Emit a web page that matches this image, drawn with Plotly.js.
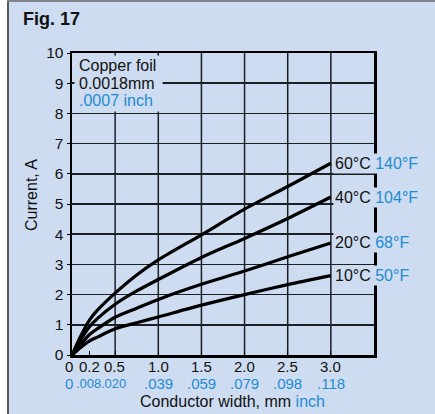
<!DOCTYPE html>
<html>
<head>
<meta charset="utf-8">
<script src="https://cdn.plot.ly/plotly-3.0.1.min.js"></script>
<style>
  html, body { margin:0; padding:0; background:#ffffff; }
  #wrap { position:relative; width:435px; height:414px; }
  #chart { position:absolute; left:0; top:0; width:435px; height:414px; }
  #bl { position:absolute; left:0; top:0; width:7px; height:414px; background:#ffffff; }
  #bl2 { position:absolute; left:7px; top:0; width:2px; height:414px; background:#555a60; }
  #bt { position:absolute; left:7px; top:0; width:428px; height:2px; background:#80868c; }
</style>
</head>
<body>
<div id="wrap">
  <div id="chart"></div>
  <div id="bl"></div><div id="bl2"></div><div id="bt"></div>
</div>
<script>
// Data
const widthMM = [0, 0.1, 0.2, 0.3, 0.5, 0.75, 1.0, 1.5, 2.0, 2.5, 3.0];
const current60 = [0, 0.62, 1.15, 1.50, 2.05, 2.65, 3.15, 3.98, 4.83, 5.58, 6.35];
const current40 = [0, 0.50, 0.93, 1.22, 1.68, 2.12, 2.50, 3.23, 3.86, 4.52, 5.23];
const current20 = [0, 0.35, 0.67, 0.88, 1.25, 1.55, 1.84, 2.34, 2.78, 3.25, 3.71];
const current10 = [0, 0.25, 0.46, 0.60, 0.87, 1.07, 1.26, 1.65, 2.00, 2.33, 2.63];
const seriesC = ["60°C", "40°C", "20°C", "10°C"];
const seriesF = ["140°F", "104°F", "68°F", "50°F"];
const xTickVals = [0, 0.2, 0.5, 1.0, 1.5, 2.0, 2.5, 3.0];
const xTickMM = ["0", "0.2", "0.5", "1.0", "1.5", "2.0", "2.5", "3.0"];
const xTickInch = ["0", ".008", ".020", ".039", ".059", ".079", ".098", ".118"];
const xGridVals = [0.5, 1.0, 1.5, 2.0, 2.5, 3.0];
const noteLines = ["Copper foil", "0.0018mm", ".0007 inch"];

const BLUE = "#1f8bd0";
const BG = "#cddcf0";
const INK = "#111111";
const FONT = "Liberation Sans, Arial, sans-serif";

const allSeries = [current60, current40, current20, current10];
const traces = allSeries.map((ys, i) => ({
  x: widthMM, y: ys, type: "scatter", mode: "lines",
  line: { color: "#000000", width: 3.2, shape: "spline", smoothing: 0.8 },
  name: seriesC[i], showlegend: false, hoverinfo: "skip"
}));

const annotations = allSeries.map((ys, i) => ({
  x: widthMM[widthMM.length - 1], y: ys[ys.length - 1], xref: "x", yref: "y",
  text: seriesC[i] + " <span style='color:" + BLUE + "'>" + seriesF[i] + "</span>",
  showarrow: false, xanchor: "left", yanchor: "middle", xshift: 2,
  bgcolor: BG, borderpad: 1,
  font: { family: FONT, size: 16, color: INK }
}));
// background box of the note
annotations.push({
  x: 0, y: 10, xref: "x", yref: "y", xanchor: "left", yanchor: "top",
  xshift: 1.5, yshift: -1.5, width: 87, height: 55, borderpad: 0,
  text: " ", showarrow: false, bgcolor: BG
});
noteLines.forEach((t, i) => {
  annotations.push({
    x: 0, y: 10, xref: "x", yref: "y", xanchor: "left", yanchor: "middle",
    xshift: 5, yshift: -(12.5 + 17.7 * i),
    text: t, showarrow: false,
    font: { family: FONT, size: 16, color: i === 2 ? BLUE : INK }
  });
});
// x tick labels: mm row and inch row
xTickVals.forEach((v, i) => {
  const dx = i === 0 ? -3 : (i === 2 ? -1 : 0);
  annotations.push({
    x: v, y: 0, xref: "x", yref: "paper", xanchor: "center", yanchor: "middle",
    xshift: dx, yshift: -11.5, showarrow: false, text: xTickMM[i],
    font: { family: FONT, size: 15, color: INK }
  });
  const small = (i === 1 || i === 2);
  annotations.push({
    x: v, y: 0, xref: "x", yref: "paper", xanchor: "center", yanchor: "middle",
    xshift: i === 0 ? -3 : (i === 1 ? -0.5 : (i === 2 ? -1.5 : 0)), yshift: -28, showarrow: false,
    text: xTickInch[i],
    font: { family: FONT, size: small ? 13 : 15, color: BLUE }
  });
});
// axis titles
annotations.push({
  x: 0.5, y: 0, xref: "paper", yref: "paper", xanchor: "center", yanchor: "middle",
  xshift: 9, yshift: -46.5, showarrow: false,
  text: "Conductor width, mm <span style='color:" + BLUE + "'>inch</span>",
  font: { family: FONT, size: 16, color: INK }
});
annotations.push({
  x: 0, y: 0.5, xref: "paper", yref: "paper", xanchor: "center", yanchor: "middle",
  xshift: -41, yshift: 9, showarrow: false, textangle: -90,
  text: "Current, A",
  font: { family: FONT, size: 16, color: INK }
});

const shapes = xGridVals.map(v => ({
  type: "line", xref: "x", yref: "paper", x0: v, x1: v, y0: 0, y1: 1,
  line: { color: "#1c1f24", width: 1.5 }, layer: "below"
}));

const layout = {
  width: 435, height: 414,
  margin: { l: 72, r: 61, t: 53, b: 58.5 },
  paper_bgcolor: BG, plot_bgcolor: BG,
  font: { family: FONT, size: 15, color: INK },
  title: {
    text: "<b>Fig. 17</b>", xref: "container", yref: "container",
    x: 23 / 435, xanchor: "left", y: 1 - 19 / 414, yanchor: "middle",
    font: { family: FONT, size: 18, color: INK }
  },
  xaxis: {
    range: [0, 3.5], tickmode: "array", tickvals: xTickVals, showticklabels: false,
    showgrid: false, zeroline: false, showline: true, mirror: true,
    linecolor: "#000000", linewidth: 2.5, ticks: "inside", ticklen: 4, tickcolor: "#000000",
    fixedrange: true
  },
  yaxis: {
    range: [0, 10], dtick: 1, tick0: 0, showgrid: true, gridcolor: "#1c1f24", gridwidth: 1.5,
    zeroline: false, showline: true, mirror: true, linecolor: "#000000", linewidth: 2.5,
    ticks: "outside", ticklen: 3, tickcolor: "#000000",
    tickfont: { family: FONT, size: 15.5, color: INK },
    fixedrange: true
  },
  shapes: shapes,
  annotations: annotations
};

Plotly.newPlot("chart", traces, layout, { displayModeBar: false, staticPlot: true });
</script>
</body>
</html>
